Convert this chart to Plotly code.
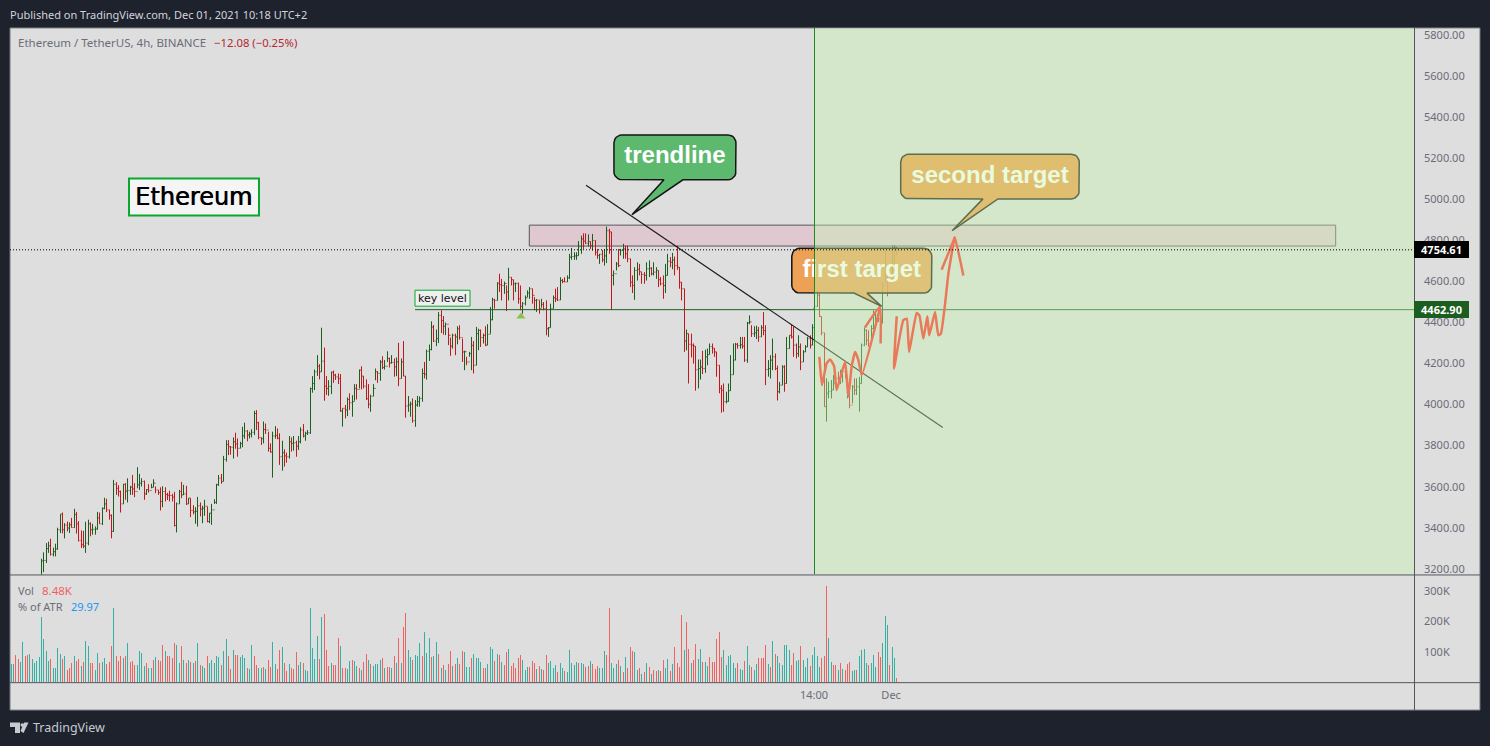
import math
import plotly.graph_objects as go

highs = [
3010,3040,3060,3055,3070,3090,3085,3110,3120,3125,
3140,3150,3165,3249,3280,3325,3332,3346,3303,3322,
3400,3466,3474,3422,3430,3426,3448,3492,3477,3432,
3387,3385,3429,3439,3426,3419,3406,3477,3474,3499,
3546,3541,3487,3465,3633,3622,3607,3581,3613,3617,
3641,3604,3657,3617,3695,3662,3641,3630,3588,3612,
3614,3636,3601,3584,3597,3602,3597,3570,3580,3565,
3575,3523,3584,3623,3609,3604,3544,3544,3510,3500,
3550,3523,3507,3536,3503,3471,3516,3539,3614,3657,
3662,3750,3827,3827,3798,3840,3863,3835,3819,3892,
3912,3876,3868,3880,3970,3973,3916,3840,3918,3908,
3868,3811,3868,3895,3884,3860,3824,3782,3766,3847,
3840,3847,3824,3847,3889,3905,3868,3876,4083,4139,
4171,4241,4197,4375,4278,4139,4119,4161,4166,4150,
4152,4149,3982,3998,4035,4055,4046,4100,4100,4171,
4187,4139,4123,4100,4048,4100,4176,4163,4217,4236,
4217,4260,4229,4241,4225,4230,4301,4225,4310,4139,
4042,4014,4030,4022,4042,4040,4176,4208,4268,4293,
4406,4388,4366,4451,4460,4432,4400,4375,4327,4346,
4346,4382,4387,4322,4263,4233,4257,4330,4310,4379,
4370,4366,4346,4382,4392,4476,4521,4516,4597,4638,
4613,4600,4581,4667,4621,4609,4595,4595,4581,4500,
4532,4557,4573,4565,4524,4515,4508,4516,4500,4508,
4378,4492,4532,4565,4573,4621,4613,4621,4630,4735,
4764,4743,4743,4797,4824,4835,4835,4830,4795,4832,
4800,4759,4735,4754,4759,4868,4857,4842,4654,4695,
4759,4759,4784,4775,4775,4711,4630,4670,4694,4686,
4646,4646,4694,4703,4670,4694,4670,4654,4622,4630,
4686,4735,4719,4740,4722,4775,4670,4597,4565,4366,
4346,4346,4298,4285,4220,4220,4262,4268,4273,4298,
4298,4275,4257,4192,4095,4103,4063,4103,4241,4298,
4301,4301,4330,4330,4330,4403,4435,4387,4382,4385,
4379,4387,4451,4387,4217,4241,4322,4249,4190,4111,
4192,4192,4330,4338,4392,4379,4298,4338,4298,4265,
4290,4330,4338,4392,4533,4557,4549,4431,4350,4128,
4112,4120,4144,4144,4160,4170,4184,4209,4128,4095,
4095,4128,4128,4136,4298,4376,4366,4363,4387,4460,
4445,4476,4468,4597,4751,4630,4678,4776,4777,4768,
]
lows = [
2980,2990,3020,3000,3015,3050,3040,3055,3080,3075,
3085,3110,3120,3160,3183,3228,3277,3264,3260,3260,
3293,3374,3372,3348,3382,3374,3400,3400,3371,3333,
3301,3300,3277,3314,3358,3366,3366,3390,3419,3413,
3490,3476,3439,3348,3380,3560,3552,3474,3516,3536,
3523,3560,3560,3549,3592,3584,3601,3536,3560,3571,
3592,3597,3568,3560,3484,3500,3528,3535,3528,3528,
3406,3377,3516,3544,3560,3511,3516,3452,3465,3419,
3406,3455,3422,3458,3426,3422,3414,3516,3516,3604,
3614,3626,3722,3754,3756,3737,3785,3746,3787,3792,
3834,3821,3835,3840,3852,3876,3831,3803,3811,3857,
3771,3766,3644,3834,3831,3706,3678,3698,3717,3737,
3771,3776,3746,3779,3811,3840,3824,3852,3857,4058,
4071,4140,4123,4160,4019,4047,4043,4051,4106,4120,
4100,3965,3893,3933,3944,3974,3941,4019,4025,4079,
4074,4079,4022,3982,3965,4041,4119,4106,4116,4173,
4171,4208,4181,4200,4136,4139,4090,4127,4139,3936,
3965,3941,3912,3892,3990,3990,4014,4128,4122,4213,
4265,4305,4285,4300,4349,4341,4339,4290,4238,4273,
4241,4294,4317,4208,4168,4192,4233,4168,4152,4192,
4265,4281,4298,4285,4290,4346,4411,4468,4508,4549,
4508,4540,4456,4508,4581,4508,4549,4492,4460,4443,
4484,4524,4516,4492,4460,4452,4443,4473,4460,4338,
4330,4375,4468,4500,4505,4510,4592,4597,4598,4613,
4706,4706,4706,4726,4735,4759,4784,4770,4759,4751,
4727,4711,4686,4694,4678,4690,4735,4463,4581,4654,
4670,4727,4711,4711,4694,4573,4544,4511,4605,4630,
4589,4589,4605,4622,4630,4630,4613,4573,4581,4516,
4544,4630,4670,4660,4630,4657,4565,4508,4257,4265,
4103,4230,4200,4068,4079,4122,4149,4155,4192,4244,
4249,4233,4136,4055,3961,3965,4006,4014,4068,4146,
4217,4273,4273,4273,4208,4204,4392,4330,4330,4320,
4306,4330,4338,4095,4136,4127,4168,4168,4020,4055,
4095,4063,4103,4273,4322,4233,4225,4233,4168,4208,
4257,4281,4273,4290,4470,4476,4427,4338,3990,3917,
4030,4030,4071,4087,4112,4100,4107,4128,4030,3982,
4006,4047,4047,3966,4103,4285,4290,4282,4298,4338,
4371,4403,4395,4395,4597,4528,4597,4606,4678,4727,
]
closes = [
3000,3030,3050,3020,3060,3080,3060,3095,3100,3090,
3130,3125,3160,3238,3240,3298,3312,3270,3283,3296,
3390,3466,3390,3413,3398,3414,3401,3464,3419,3338,
3317,3310,3325,3419,3390,3392,3394,3448,3419,3494,
3516,3487,3460,3382,3612,3592,3576,3516,3612,3578,
3581,3598,3589,3576,3609,3617,3625,3565,3586,3581,
3597,3617,3584,3571,3528,3576,3562,3558,3557,3549,
3411,3516,3576,3560,3565,3516,3544,3484,3477,3480,
3507,3490,3495,3505,3430,3471,3487,3523,3609,3641,
3625,3733,3806,3795,3792,3819,3808,3787,3810,3848,
3871,3852,3857,3865,3957,3912,3840,3834,3879,3876,
3787,3769,3847,3850,3836,3746,3766,3750,3746,3819,
3811,3814,3798,3819,3876,3847,3860,3863,4078,4103,
4160,4187,4160,4212,4090,4079,4089,4158,4144,4135,
4127,3969,3982,3974,4025,4009,4015,4079,4074,4168,
4139,4090,4029,4002,4041,4079,4160,4152,4208,4181,
4187,4225,4203,4206,4184,4208,4127,4208,4139,3993,
3998,4003,3922,3998,4014,4030,4152,4148,4260,4268,
4378,4310,4322,4435,4410,4382,4392,4338,4285,4338,
4330,4370,4327,4257,4258,4208,4249,4289,4192,4346,
4362,4327,4338,4290,4343,4414,4511,4508,4592,4585,
4581,4590,4549,4621,4609,4589,4591,4516,4479,4492,
4521,4544,4565,4533,4508,4510,4468,4489,4468,4370,
4375,4468,4521,4515,4510,4605,4600,4598,4618,4719,
4722,4725,4726,4770,4808,4797,4787,4795,4775,4800,
4743,4727,4733,4706,4725,4848,4842,4630,4638,4686,
4678,4751,4759,4735,4711,4597,4581,4654,4660,4648,
4635,4630,4662,4665,4638,4646,4654,4609,4589,4581,
4630,4699,4694,4705,4678,4670,4597,4565,4310,4346,
4294,4290,4285,4170,4176,4184,4176,4233,4244,4283,
4275,4257,4192,4079,4070,4014,4016,4068,4146,4217,
4294,4288,4292,4285,4217,4398,4403,4346,4350,4362,
4330,4375,4361,4171,4176,4217,4233,4176,4063,4095,
4184,4103,4273,4338,4330,4290,4249,4281,4208,4257,
4281,4322,4290,4375,4480,4533,4430,4350,3990,4055,
4063,4071,4104,4128,4123,4150,4160,4152,4090,3998,
4087,4071,4087,4103,4290,4363,4314,4298,4371,4435,
4440,4419,4411,4581,4622,4610,4662,4686,4751,4754.61,
]
# Bars open at the previous close, apart from the few visible gaps.
opens = [2990] + closes[:-1]
open_gaps = {344: 4470, 358: 4060, 379: 4766.69}
for bar_no, gap_open in open_gaps.items():
    opens[bar_no] = gap_open

volumes_k = [
60,60,90,77,67,132,86,90,93,77,
63,69,83,214,142,103,70,77,47,47,
113,93,77,86,40,47,63,86,70,77,
54,67,136,119,63,63,40,96,63,67,
80,60,67,119,244,86,70,86,80,86,
129,67,70,57,57,103,96,54,63,47,
47,73,83,73,70,122,103,86,86,80,
129,122,63,119,73,63,73,67,63,70,
129,57,54,47,86,63,73,63,86,83,
57,103,142,86,44,106,90,90,83,90,
80,47,44,122,86,57,47,47,50,44,
73,50,132,60,44,106,116,63,37,60,
47,44,99,57,67,63,40,37,244,113,
77,152,77,214,224,106,54,63,57,57,
145,119,47,47,44,70,73,70,54,47,
40,67,93,73,60,54,60,60,73,80,
47,50,50,47,86,63,145,63,181,227,
106,83,73,90,86,129,86,165,96,145,
83,86,132,93,47,57,40,60,
103,54,60,80,60,103,99,50,50,80,
93,80,80,67,47,47,60,116,109,70,
93,90,67,57,99,109,54,63,47,80,
90,73,40,50,50,70,63,44,54,44,
40,90,63,70,47,57,34,63,47,37,
34,106,63,57,67,63,63,60,50,54,
70,60,44,54,47,47,103,90,244,63,
47,60,73,54,34,83,47,116,103,99,
40,47,27,34,63,50,27,40,37,40,
37,73,47,77,37,60,116,63,50,221,
106,198,109,63,73,126,77,109,67,67,
54,83,67,67,142,165,83,106,57,86,
90,63,47,63,44,40,70,119,57,50,
40,60,80,80,80,122,60,50,136,93,
86,63,57,122,122,106,57,96,70,73,
119,73,50,80,54,90,116,86,50,80,
86,316,145,67,57,57,40,63,44,40,
60,67,37,40,40,86,106,109,63,57,
63,90,50,99,83,129,218,188,57,116,
80,14,
]
volume_sides = "".join([
"uudduudduu","uuuuuuuduu","uududddudd","uduudduudu","udddudddud",
"uddduuuudu","ududdduddd","duudududud","uduuduuuuu","duuddudduu",
"uduudduudu","dduudduddu","ddduuduuuu","uududddudd","dudduuduud",
"udduduuuud","uddudududd","uuduuuduuu","duududud",
"dududduuud","uuuudduuud","ududdudddd","duuudddudu","dduuuuduud",
"uuuuuduudd","uddduuuddu","uudududddu","ududududdu","dduududddd",
"uddudduudu","udddddduuu","uuuduuduud","uuddddudud","uuuuuudduu",
"duuuduuuud","dduuddudud","dduuduuuud","uuudduuudu","ud",
])

price_ticks = [3200,3400,3600,3800,4000,4200,4400,4600,4800,5000,5200,5400,5600,5800]
volume_ticks = [100,200,300]
time_tick_bars = [343.6, 376.6]
time_tick_labels = ["14:00", "Dec"]

last_price = 4754.61
key_level = 4462.90
zone_top = 4875
zone_bottom = 4773

trend_bars = [246.05, 398.7]
trend_prices = [5070, 3889]

scribble_bars = [345.9,347.0,349.0,350.5,352.2,353.3,356.9,358.3,359.7,361.2,362.6,364.0,371.8,None,
                 365.4,371.8,372.1,None,
                 379.0,377.8,381.8,383.3,384.3,387.5,388.7,390.4,392.1,392.9,395.4,396.8,397.9,399.7,401.1,403.5,403.9,407.5,None,
                 398.2,403.9]
scribble_prices = [4233,4095,4201,4220,4188,4071,4209,4039,4184,4257,4217,4144,4468,None,
                   4376,4476,4298,None,
                   4431,4176,4411,4419,4257,4447,4435,4322,4431,4338,4452,4338,4346,4492,4638,4800,4816,4630,None,
                   4657,4816]

# Window and pane layout, in pixels of the 1490x746 page.
W, H = 1490, 746
PANE_L, PANE_R, PANE_T, PANE_B, VOL_B, FOOT_B, AXIS_R = 10, 1414, 27, 575, 684, 711, 1480
BAR_PX = 2.337
FIRST_BAR_PX = 11
PRICE_PX = 0.20568
XMIN = (PANE_L - FIRST_BAR_PX) / BAR_PX
XMAX = (PANE_R - FIRST_BAR_PX) / BAR_PX
YMIN = 3172.0
YMAX = 5836.4
DARK = "#1e222d"
PANEL = "#dedede"
ZONE_START = (814.5 - FIRST_BAR_PX) / BAR_PX

def fx(px):
    return px / W

def fy(py):
    return 1 - py / H

def bubble(left, right, top, bottom, base_a, base_b, tip_bar, tip_price):
    """Outline of a rounded callout in bar/price coordinates."""
    rx, ry = 8 / BAR_PX, 8 / PRICE_PX
    xs, ys = [], []
    for cx, cy, start in ((right - rx, top - ry, 90), (right - rx, bottom + ry, 0)):
        for k in range(7):
            a = math.radians(start - 15 * k)
            xs.append(cx + rx * math.cos(a))
            ys.append(cy + ry * math.sin(a))
    xs += [base_b, tip_bar, base_a]
    ys += [bottom, tip_price, bottom]
    for cx, cy, start in ((left + rx, bottom + ry, 270), (left + rx, top - ry, 180)):
        for k in range(7):
            a = math.radians(start - 15 * k)
            xs.append(cx + rx * math.cos(a))
            ys.append(cy + ry * math.sin(a))
    xs.append(xs[0])
    ys.append(ys[0])
    return xs, ys

# Bars sit on whole screen pixels, as the original chart draws them.
bars = [(math.floor(FIRST_BAR_PX + BAR_PX * i) + 0.5 - FIRST_BAR_PX) / BAR_PX for i in range(len(closes))]
fig = go.Figure()

fig.add_trace(go.Ohlc(
    x=bars, open=opens, high=highs, low=lows, close=closes,
    increasing=dict(line=dict(color="#1b5e20", width=1)),
    decreasing=dict(line=dict(color="#c2181c", width=1)),
    tickwidth=0.5, hoverinfo="skip", xaxis="x", yaxis="y",
))
fig.add_trace(go.Bar(
    x=bars, y=volumes_k, width=1 / BAR_PX,
    marker=dict(color=["#35b0a2" if s == "u" else "#f0625f" for s in volume_sides], line=dict(width=0)),
    hoverinfo="skip", xaxis="x", yaxis="y2",
))
fig.add_trace(go.Scatter(
    x=[172.9, XMAX], y=[key_level, key_level], mode="lines",
    line=dict(color="#1b5e20", width=1), hoverinfo="skip",
))
fig.add_trace(go.Scatter(
    x=trend_bars, y=trend_prices, mode="lines",
    line=dict(color="#1a1a1a", width=1.2), hoverinfo="skip",
))
fig.add_trace(go.Scatter(
    x=[218.2], y=[4430], mode="markers",
    marker=dict(symbol="triangle-up", size=8, color="#8bc34a", line=dict(width=0)), hoverinfo="skip",
))
fig.add_trace(go.Scatter(
    x=scribble_bars, y=scribble_prices, mode="lines", connectgaps=False,
    line=dict(color="#fd2821", width=2.5, shape="spline", smoothing=0.4), hoverinfo="skip",
))

callouts = [
    ("trendline", (258.0, 310.2, 5315, 5096, 279.4, 287.5, 265.7, 4926), "rgba(92,185,110,1)"),
    ("first target", (334.1, 394.0, 4762.4, 4543.7, 360.7, 366.3, 372.5, 4479), "rgba(240,150,62,0.85)"),
    ("second target", (380.7, 457.1, 5221, 5003, 415.9, 422.3, 402.7, 4848), "rgba(240,150,62,0.95)"),
]
for label_text, box, fill in callouts:
    xs, ys = bubble(*box)
    fig.add_trace(go.Scatter(
        x=xs, y=ys, mode="lines", fill="toself", fillcolor=fill,
        line=dict(color="#141414", width=1.5), hoverinfo="skip",
    ))
    fig.add_trace(go.Scatter(
        x=[(box[0] + box[1]) / 2], y=[(box[2] + box[3]) / 2], mode="text", text=[label_text],
        textposition="middle center",
        textfont=dict(family="Liberation Sans", size=24, color="white", weight=700), hoverinfo="skip",
    ))

line_grey = "#55565c"
shapes = [
    dict(type="rect", layer="below", xref="paper", yref="paper", x0=fx(PANE_L), x1=fx(AXIS_R),
         y0=fy(PANE_T), y1=fy(FOOT_B), fillcolor=PANEL, line=dict(color="#73757c", width=1)),
    dict(type="rect", layer="below", xref="x", yref="y", x0=(529.3 - FIRST_BAR_PX) / BAR_PX,
         x1=(1335.7 - FIRST_BAR_PX) / BAR_PX, y0=zone_bottom, y1=zone_top,
         fillcolor="#e0c8d0", line=dict(color="#55565c", width=1)),
    dict(type="rect", layer="above", xref="x", yref="y", x0=ZONE_START, x1=XMAX, y0=YMIN, y1=YMAX,
         fillcolor="rgba(200,245,175,0.4)", line=dict(width=0)),
    dict(type="line", layer="above", xref="x", yref="y", x0=ZONE_START, x1=ZONE_START, y0=YMIN, y1=YMAX,
         line=dict(color="#1f8a25", width=1)),
    dict(type="line", layer="above", xref="x", yref="y", x0=XMIN, x1=XMAX, y0=last_price, y1=last_price,
         line=dict(color="#000000", width=1, dash="1px,2px")),
    dict(type="line", layer="above", xref="paper", yref="paper", x0=fx(PANE_L), x1=fx(AXIS_R),
         y0=fy(PANE_B + 0.5), y1=fy(PANE_B + 0.5), line=dict(color=line_grey, width=1)),
    dict(type="line", layer="above", xref="paper", yref="paper", x0=fx(PANE_L), x1=fx(AXIS_R),
         y0=fy(VOL_B - 0.5), y1=fy(VOL_B - 0.5), line=dict(color=line_grey, width=1)),
    dict(type="line", layer="above", xref="paper", yref="paper", x0=fx(PANE_R + 0.5), x1=fx(PANE_R + 0.5),
         y0=fy(PANE_T), y1=fy(FOOT_B), line=dict(color=line_grey, width=1)),
    # "Ethereum" and "key level" text boxes
    dict(type="rect", layer="above", xref="paper", yref="paper", x0=fx(129), x1=fx(259), y0=fy(215), y1=fy(178),
         fillcolor="#f5f5f5", line=dict(color="#0aa82e", width=2)),
    dict(type="rect", layer="above", xref="paper", yref="paper", x0=fx(415), x1=fx(470), y0=fy(306), y1=fy(290),
         fillcolor="#f0f0f0", line=dict(color="#0aa82e", width=1)),
    # footer logo
    dict(type="path", layer="above", xref="paper", yref="paper", fillcolor="#c8cad0", line=dict(width=0),
         path=f"M{fx(10)},{fy(723.5)} L{fx(20)},{fy(723.5)} L{fx(20)},{fy(734)} L{fx(15)},{fy(734)} "
              f"L{fx(15)},{fy(728)} L{fx(10)},{fy(728)} Z"),
    dict(type="path", layer="above", xref="paper", yref="paper", fillcolor="#c8cad0", line=dict(width=0),
         path=f"M{fx(23.5)},{fy(734)} L{fx(28.5)},{fy(723.5)} L{fx(24)},{fy(723.5)} L{fx(20.5)},{fy(732)} Z"),
    dict(type="circle", layer="above", xref="paper", yref="paper", fillcolor="#c8cad0", line=dict(width=0),
         x0=fx(20.5), x1=fx(23.8), y0=fy(727.8), y1=fy(724.2)),
]

UI = "Noto Sans"

def label(px, py, text, color, size=11, family=UI, anchor="left", shadow=None, **kw):
    font = dict(family=family, size=size, color=color)
    if shadow:
        font["shadow"] = shadow
    return dict(xref="paper", yref="paper", x=fx(px), y=fy(py), text=text, showarrow=False,
                xanchor=anchor, yanchor="middle", font=font,
                borderpad=0, borderwidth=0, **kw)

annotations = [
    label(10, 14, "Published on TradingView.com, Dec 01, 2021 10:18 UTC+2", "#d1d4dc", 11),
    label(18, 42, "Ethereum / TetherUS, 4h, BINANCE", "#6a6d78", 11.5),
    label(214, 42, "\u221212.08 (\u22120.25%)", "#b22833", 11.3),
    label(18, 591, "Vol", "#6a6d78", 11),
    label(42, 591, "8.48K", "#f0605f", 11.5),
    label(18, 607, "% of ATR", "#6a6d78", 11),
    label(71, 607, "29.97", "#2196f3", 11),
    label(194, 196.5, "Ethereum", "#000000", 24, "DejaVu Sans", "center", shadow="0.6px 0 0 #000000"),
    label(442.5, 298, "key level", "#111111", 11, "DejaVu Sans", "center"),
    label(33, 728.5, "TradingView", "#c8cad0", 12.5),
    label(1441.5, 249.5, "<b>4754.61</b>", "#ffffff", 11, UI, "center", bgcolor="#000000", width=55, height=17),
    label(1441.5, 309.5, "<b>4462.90</b>", "#ffffff", 11, UI, "center", bgcolor="#1b5e20", width=55, height=17),
]

axis_font = dict(family=UI, size=11, color="#6a6d78")
fig.update_layout(
    width=W, height=H, margin=dict(l=0, r=0, t=0, b=0),
    paper_bgcolor=DARK, plot_bgcolor="rgba(0,0,0,0)",
    showlegend=False, bargap=0, shapes=shapes, annotations=annotations,
    xaxis=dict(domain=[fx(PANE_L), fx(PANE_R)], range=[XMIN, XMAX], anchor="y2",
               rangeslider=dict(visible=False), showgrid=False, zeroline=False, showline=False, ticks="",
               tickmode="array", tickvals=time_tick_bars, ticktext=time_tick_labels,
               tickfont=axis_font, ticklabelstandoff=4),
    yaxis=dict(domain=[fy(PANE_B), fy(PANE_T)], range=[YMIN, YMAX], anchor="x", side="right",
               showgrid=False, zeroline=False, showline=False, ticks="",
               tickmode="array", tickvals=price_ticks, ticktext=[f"{p}.00" for p in price_ticks],
               tickfont=axis_font, ticklabelstandoff=9),
    yaxis2=dict(domain=[fy(VOL_B), fy(PANE_B)], range=[-2.3, 355], anchor="x", side="right",
                showgrid=False, zeroline=False, showline=False, ticks="",
                tickmode="array", tickvals=volume_ticks, ticktext=[f"{v}K" for v in volume_ticks],
                tickfont=axis_font, ticklabelstandoff=9),
)

fig.write_html("out.html", config=dict(displayModeBar=False),
               post_script="document.body.style.margin='0';document.body.style.overflow='hidden';")
